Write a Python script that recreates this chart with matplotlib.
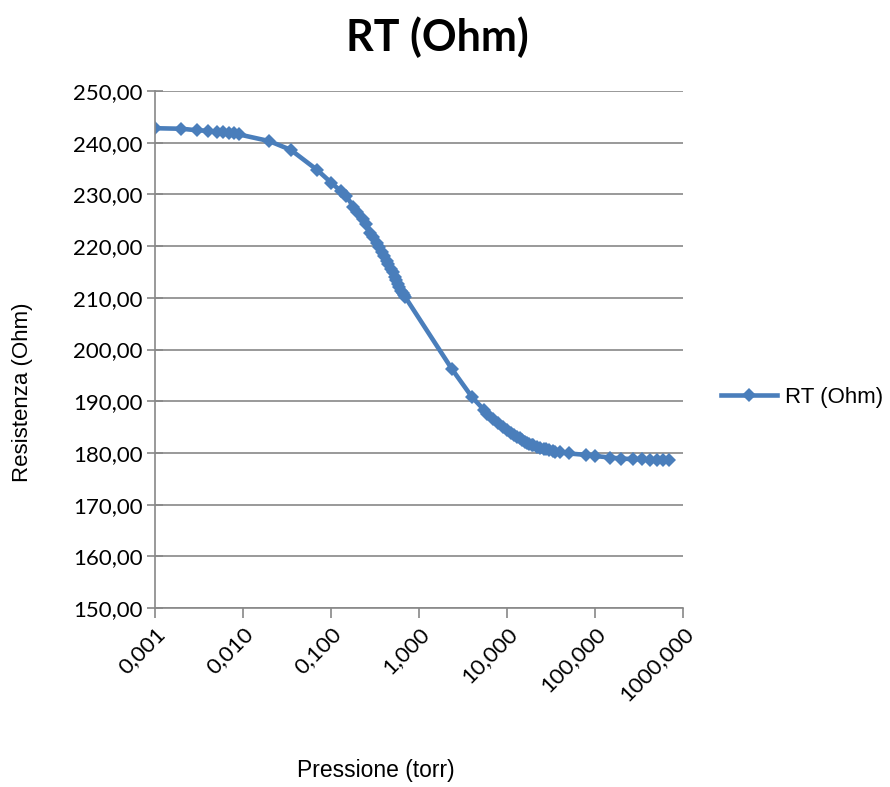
import numpy as np
import matplotlib.pyplot as plt
from matplotlib.ticker import FixedLocator, FuncFormatter, NullLocator

# pressure (torr) and resistance (Ohm)
pressure = [
    0.001, 0.002, 0.003, 0.004, 0.005, 0.006, 0.007, 0.008, 0.009,
    0.02, 0.035, 0.07,
    0.1, 0.13, 0.15, 0.18, 0.2, 0.23, 0.25, 0.28, 0.3, 0.33, 0.35, 0.38,
    0.4, 0.43, 0.45, 0.48, 0.5, 0.53, 0.55, 0.58, 0.6, 0.63, 0.65, 0.68, 0.7,
    2.37, 4.0, 5.5, 6, 7, 8, 9, 10, 11, 12, 13, 14, 15, 16, 17, 18, 19, 20,
    22, 24, 26, 28, 30, 33, 35,
    40, 50, 80, 100, 150, 200, 270, 340, 420, 500, 590, 700,
]
resistance = [
    242.8, 242.7, 242.4, 242.3, 242.1, 242.0, 241.9, 241.8, 241.6,
    240.3, 238.6, 234.7,
    232.3, 230.6, 229.6, 227.6, 226.5, 225.2, 224.2, 222.6, 221.8, 220.6, 219.9, 218.8,
    218.0, 217.2, 216.5, 215.5, 214.9, 214.0, 213.4, 212.6, 212.1, 211.4, 211.0, 210.5, 210.1,
    196.2, 190.8, 188.3, 187.5, 186.6, 185.7, 185.0, 184.4, 183.9, 183.5, 183.1, 182.8,
    182.5, 182.2, 182.0, 181.8, 181.6, 181.5,
    181.2, 181.0, 180.8, 180.7, 180.5, 180.3, 180.2,
    180.1, 179.9, 179.6, 179.4, 179.1, 178.9, 178.8, 178.8, 178.7, 178.7, 178.7, 178.6,
]

x_ticks = [0.001, 0.01, 0.1, 1, 10, 100, 1000]
y_ticks = [150, 160, 170, 180, 190, 200, 210, 220, 230, 240, 250]

line_color = "#4A7EBB"
grid_color = "#888888"

plt.rcParams["font.family"] = ["Lato", "DejaVu Sans"]

fig = plt.figure(figsize=(8.9, 7.87), dpi=100)
ax = fig.add_axes([155 / 890, 1 - 608 / 787, (683 - 155) / 890, (608 - 91) / 787])

ax.plot(pressure, resistance, color=line_color, lw=3.3, marker="D",
        markersize=7, markeredgewidth=0, label="RT (Ohm)")

ax.set_xscale("log")
ax.set_xlim(0.001, 1000)
ax.set_ylim(150, 250)

ax.xaxis.set_major_locator(FixedLocator(x_ticks))
ax.xaxis.set_minor_locator(NullLocator())
ax.xaxis.set_major_formatter(FuncFormatter(lambda v, p: f"{v:.3f}".replace(".", ",")))
ax.yaxis.set_major_locator(FixedLocator(y_ticks))
ax.yaxis.set_major_formatter(FuncFormatter(lambda v, p: f"{v:.2f}".replace(".", ",")))

ax.grid(True, axis="y", color=grid_color, lw=1.2)
ax.set_axisbelow(True)

for side in ["top", "right"]:
    ax.spines[side].set_visible(False)
for side in ["left", "bottom"]:
    ax.spines[side].set_color(grid_color)
    ax.spines[side].set_linewidth(1.2)

ax.tick_params(axis="x", direction="out", length=7, width=1.2, color=grid_color,
               labelsize=16, pad=4)
ax.tick_params(axis="y", direction="inout", length=12, width=1.2, color=grid_color,
               labelsize=16, pad=3)
plt.setp(ax.get_xticklabels(), rotation=45, ha="right", rotation_mode="anchor")

fig.text(437 / 890, 1 - 37 / 787, "RT (Ohm)", ha="center", va="center",
         fontsize=31, fontweight="bold")
fig.text(23 / 890, 1 - 392 / 787, "Resistenza (Ohm)", ha="center", va="center",
         rotation=90, fontsize=16, family="Liberation Sans")
fig.text(376 / 890, 1 - 771 / 787, "Pressione (torr)", ha="center", va="center",
         fontsize=16.5, family="Liberation Sans")

ax.legend(loc="center left", bbox_to_anchor=(721 / 890, 1 - 397 / 787),
          bbox_transform=fig.transFigure, frameon=False,
          prop={"family": "Liberation Sans", "size": 16},
          handlelength=2.5, handletextpad=0.4, borderaxespad=0, borderpad=0)

fig.savefig("out.png", dpi=100)
